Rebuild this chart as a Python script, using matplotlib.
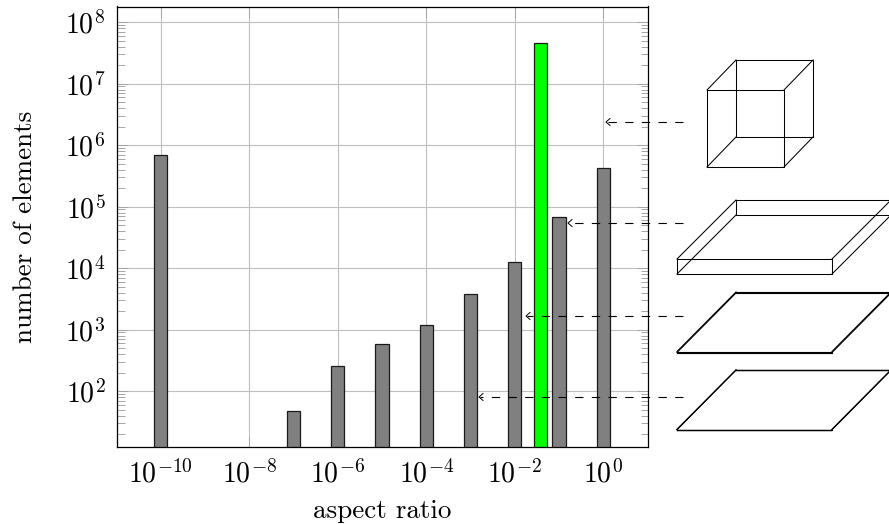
#!/usr/bin/env python3
"""Histogram of element aspect ratios, with the element shapes sketched beside it."""

import matplotlib
matplotlib.use("Agg")
import matplotlib.pyplot as plt
from matplotlib.ticker import LogLocator, NullLocator

plt.rcParams["font.family"] = ["cmr10", "DejaVu Serif"]
plt.rcParams["mathtext.fontset"] = "cm"
plt.rcParams["axes.formatter.use_mathtext"] = True
plt.rcParams["axes.unicode_minus"] = False

# Bin centres as log10(aspect ratio) and the element count of each bin
BIN_EXPONENTS = [-10, -7, -6, -5, -4, -3, -2, -1.41, -1, 0]
ELEMENT_COUNTS = [6.9e5, 48, 255, 590, 1200, 3800, 12500, 4.6e7, 67000, 4.3e5]
BAR_COLORS = ["gray"] * 7 + ["#00ff00"] + ["gray"] * 2
BAR_HALF_WIDTH = 0.15  # decades

X_TICKS = [1e-10, 1e-8, 1e-6, 1e-4, 1e-2, 1e0]
Y_TICKS = [1e2, 1e3, 1e4, 1e5, 1e6, 1e7, 1e8]

# Sketches on the right, in image pixels: (left, right, top, bottom) of the front face
BOXES = [
    (707, 784, 90, 167),    # cube
    (677, 832, 259, 274),   # thin plate
    (677, 832, 351.5, 352.5),  # nearly flat plate
    (677, 832, 429.5, 429.5),  # flat element
]
BOX_DEPTH_X = [29, 59, 59, 59]
BOX_DEPTH_Y = [30, 59, 59.5, 59.5]
BOX_WIDTHS = [0.75, 0.75, 0.8, 0.9]

# Dashed pointers from the sketches to the bars: (tip x, y)
ARROW_START_X = 683
ARROW_TIPS_X = [606, 568, 526, 479]
ARROW_Y = [122, 223, 316, 397]


def draw_box(ax, left, right, top, bottom, dx, dy, lw):
    """Wireframe box, front face plus a back face shifted by (dx, -dy)."""
    front_x = [left, right, right, left, left]
    front_y = [top, top, bottom, bottom, top]
    ax.plot(front_x, front_y, color="black", lw=lw)
    ax.plot([x + dx for x in front_x], [y - dy for y in front_y], color="black", lw=lw)
    for x, y in zip(front_x[:4], front_y[:4]):
        ax.plot([x, x + dx], [y, y - dy], color="black", lw=lw)


def main():
    fig = plt.figure(figsize=(8.89, 5.24), dpi=100)
    ax = fig.add_axes([116.5 / 889, 1 - 447 / 524, 531 / 889, 440.5 / 524])

    # Bars are equally wide on the log axis, so compute the edges per bin
    lefts = [10 ** (e - BAR_HALF_WIDTH) for e in BIN_EXPONENTS]
    widths = [10 ** (e + BAR_HALF_WIDTH) - 10 ** (e - BAR_HALF_WIDTH) for e in BIN_EXPONENTS]
    ax.bar(lefts, ELEMENT_COUNTS, width=widths, align="edge",
           color=BAR_COLORS, edgecolor="0.1", linewidth=0.9, zorder=3)

    ax.set_xscale("log")
    ax.set_yscale("log")
    ax.set_xlim(1e-11, 1e1)
    ax.set_ylim(12.3, 1.8e8)

    ax.set_xticks(X_TICKS)
    ax.xaxis.set_minor_locator(NullLocator())
    ax.set_yticks(Y_TICKS)
    ax.yaxis.set_minor_locator(LogLocator(base=10, subs=range(2, 10), numticks=12))
    ax.yaxis.set_minor_formatter(plt.NullFormatter())

    ax.tick_params(which="major", direction="in", length=8, width=0.7, color="0.65",
                   top=True, right=True, labelsize=20, pad=8)
    ax.tick_params(axis="x", which="major", pad=9)
    ax.tick_params(which="minor", direction="in", length=5.4, width=0.7, color="0.65",
                   left=True, right=True)
    ax.grid(True, which="major", color="0.75", linewidth=0.8, zorder=0)
    ax.set_axisbelow(True)
    for spine in ax.spines.values():
        spine.set_linewidth(0.9)
        spine.set_zorder(5)

    ax.set_xlabel("aspect ratio", fontsize=19.5, labelpad=8)
    ax.set_ylabel("number of elements", fontsize=19.5, labelpad=20)

    # Overlay in image pixels for the sketches and pointers
    overlay = fig.add_axes([0, 0, 1, 1], facecolor="none")
    overlay.set_xlim(0, 889)
    overlay.set_ylim(524, 0)
    overlay.axis("off")

    for box, dx, dy, lw in zip(BOXES, BOX_DEPTH_X, BOX_DEPTH_Y, BOX_WIDTHS):
        draw_box(overlay, *box, dx, dy, lw)

    for tip_x, y in zip(ARROW_TIPS_X, ARROW_Y):
        overlay.plot([ARROW_START_X, tip_x + 1], [y, y], color="black", lw=0.8,
                     dashes=(7.5, 7.5), zorder=6)
        overlay.plot([tip_x + 4, tip_x, tip_x + 4], [y - 3.5, y, y + 3.5],
                     color="black", lw=0.7, zorder=6)

    fig.savefig("out.png", dpi=100)


if __name__ == "__main__":
    main()
